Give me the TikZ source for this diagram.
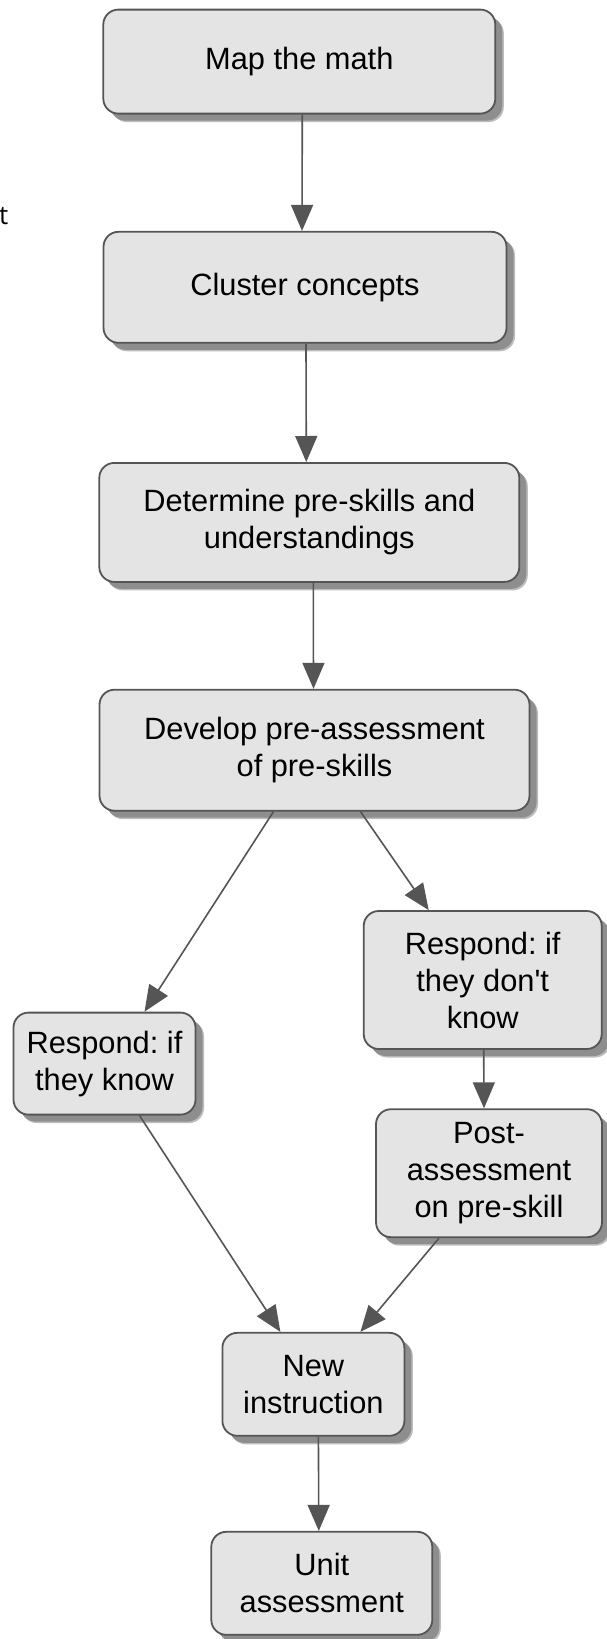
\documentclass[tikz,border=0pt]{standalone}
\usepackage{fontspec}
\setmainfont{Liberation Sans}
\newfontfamily\tfont{Open Sans}
\usetikzlibrary{arrows.meta,shadows,calc}
\definecolor{boxfill}{HTML}{E4E4E4}
\definecolor{boxline}{HTML}{555555}
\definecolor{shadowa}{HTML}{BDBDBD}
\definecolor{shadowb}{HTML}{8E8E8E}
\frenchspacing
\begin{document}
\begin{tikzpicture}[x=1pt,y=-1pt,
  box/.style={draw=boxline, line width=1.8pt, fill=boxfill, rounded corners=15pt,
    align=center, inner sep=0pt, font=\fontsize{30.8}{37}\selectfont,
    general shadow={shadow xshift=8.5pt, shadow yshift=-8.5pt, fill=shadowa},
    general shadow={shadow xshift=7pt, shadow yshift=-7pt, fill=shadowb}},
  arr/.style={draw=boxline, line width=1.6pt, -{Triangle[length=26pt,width=22pt]}}]
\useasboundingbox[fill=white] (0,0) rectangle (607,1639);

\node[anchor=west, inner sep=0pt, font=\tfont\fontsize{26}{30}\selectfont] (tfrag) at (-1,216) {t};

\node[box, minimum width=392pt, minimum height=104pt] (map) at (299.3,61.6) {Map the math};
\node[box, minimum width=403pt, minimum height=111pt] (clu) at (305,287.3) {Cluster concepts};
\node[box, minimum width=420pt, minimum height=119pt] (det) at (309.3,522.4) {Determine pre-skills and\\understandings};
\node[box, minimum width=430pt, minimum height=121pt] (dev) at (314.5,750.2) {Develop pre-assessment\\of pre-skills};
\node[box, minimum width=238pt, minimum height=138pt] (rdk) at (482.7,980) {Respond: if\\they don\textquotesingle t\\know};
\node[box, minimum width=226pt, minimum height=128pt] (post) at (489,1173.2) {Post-\\assessment\\on pre-skill};
\node[box, minimum width=182pt, minimum height=102pt] (rk) at (104.5,1063.6) {Respond: if\\they know};
\node[box, minimum width=182pt, minimum height=103pt] (new) at (313.4,1384.3) {New\\instruction};
\node[box, minimum width=221pt, minimum height=103pt] (unit) at (321.8,1583.3) {Unit\\assessment};

\draw[arr] ([xshift=3pt]map.south) -- ([xshift=-3pt]clu.north);
\draw[arr] ([xshift=1pt]clu.south) -- ([xshift=-3pt]det.north);
\draw[arr] ([xshift=4pt]det.south) -- ([xshift=-1pt]dev.north);
\draw[arr] ([xshift=-41pt]dev.south) -- ([xshift=40pt]rk.north);
\draw[arr] ([xshift=46pt]dev.south) -- ([xshift=-54pt]rdk.north);
\draw[arr] ([xshift=1pt]rdk.south) -- ([xshift=-5pt]post.north);
\draw[arr] ([xshift=35pt]rk.south) -- ([xshift=-33pt]new.north);
\draw[arr] ([xshift=-50pt]post.south) -- ([xshift=47pt]new.north);
\draw[arr] ([xshift=5pt]new.south) -- ([xshift=-3pt]unit.north);
\end{tikzpicture}
\end{document}
